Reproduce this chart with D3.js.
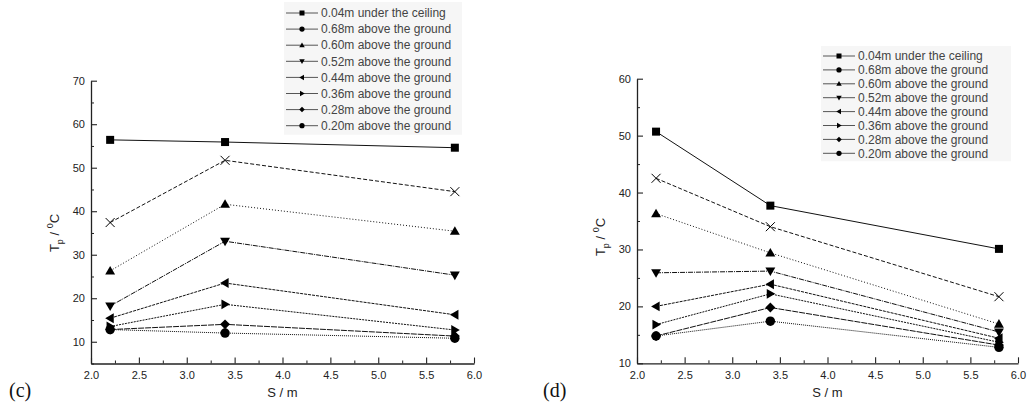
<!DOCTYPE html>
<html>
<head>
<meta charset="utf-8">
<script src="https://cdn.jsdelivr.net/npm/d3@7"></script>
<style>
  body { margin: 0; background: #fff; }
  svg { display: block; font-family: "Liberation Sans", Arial, sans-serif; }
</style>
</head>
<body>
<svg id="chart" width="1027" height="408"></svg>
<script>
// ─── DATA ───
const xValues = [2.2, 3.4, 5.8];
const seriesNames = [
    "0.04m under the ceiling",
    "0.68m above the ground",
    "0.60m above the ground",
    "0.52m above the ground",
    "0.44m above the ground",
    "0.36m above the ground",
    "0.28m above the ground",
    "0.20m above the ground"
];
// panel (c)
const valuesC = [
    [56.4, 55.9, 54.6],
    [37.4, 51.7, 44.5],
    [26.3, 41.6, 35.4],
    [18.2, 33.1, 25.3],
    [15.4, 23.5, 16.2],
    [13.5, 18.6, 12.7],
    [12.8, 14.0, 11.3],
    [12.8, 12.0, 10.8]
];
// panel (d)
const valuesD = [
    [50.7, 37.7, 30.1],
    [42.5, 34.0, 21.7],
    [36.3, 29.4, 16.9],
    [25.9, 26.2, 15.5],
    [20.0, 23.9, 14.4],
    [16.8, 22.2, 13.7],
    [14.8, 19.8, 13.2],
    [14.8, 17.4, 12.8]
];
const xTicks = [2.0, 2.5, 3.0, 3.5, 4.0, 4.5, 5.0, 5.5, 6.0];
const yTicksC = [10, 20, 30, 40, 50, 60, 70];
const yTicksD = [10, 20, 30, 40, 50, 60];

// ─── STYLES ───
const plotSymbols = ["square", "cross", "up", "down", "left", "right", "diamond", "circle"];
const legendSymbols = ["square", "circle", "up", "down", "left", "right", "diamond", "circle"];
const dashes = [null, "4,2", "1,2", "5,1,1,1", "3,1", "2,1", "6,1", "1,1"];

const svg = d3.select("#chart");

const drawMarker = (g, type, cx, cy, s) => {
    const h = s / 2;
    let pts;
    if (type === "square") {
        g.append("rect").attr("x", cx - h).attr("y", cy - h).attr("width", s).attr("height", s).attr("fill", "#000");
        return;
    }
    if (type === "circle") {
        g.append("circle").attr("cx", cx).attr("cy", cy).attr("r", h * 1.05).attr("fill", "#000");
        return;
    }
    if (type === "cross") {
        g.append("path")
            .attr("d", `M${cx - h},${cy - h}L${cx + h},${cy + h}M${cx - h},${cy + h}L${cx + h},${cy - h}`)
            .attr("stroke", "#000").attr("stroke-width", 1).attr("fill", "none");
        return;
    }
    if (type === "up") pts = [[cx, cy - h * 1.1], [cx + h * 1.1, cy + h * 0.8], [cx - h * 1.1, cy + h * 0.8]];
    if (type === "down") pts = [[cx, cy + h * 1.1], [cx + h * 1.1, cy - h * 0.8], [cx - h * 1.1, cy - h * 0.8]];
    if (type === "left") pts = [[cx - h * 1.1, cy], [cx + h * 0.8, cy - h * 1.1], [cx + h * 0.8, cy + h * 1.1]];
    if (type === "right") pts = [[cx + h * 1.1, cy], [cx - h * 0.8, cy - h * 1.1], [cx - h * 0.8, cy + h * 1.1]];
    if (type === "diamond") pts = [[cx, cy - h * 1.1], [cx + h * 1.1, cy], [cx, cy + h * 1.1], [cx - h * 1.1, cy]];
    g.append("polygon").attr("points", pts.map(p => p.join(",")).join(" ")).attr("fill", "#000");
};

const drawPanel = (cfg) => {
    const g = svg.append("g");

    const x = d3.scaleLinear().domain([2, 6]).range([cfg.left, cfg.right]);
    const y = d3.scaleLinear().domain(cfg.yDomain).range([cfg.bottom, cfg.top]);

    // minor ticks
    const yMinor = d3.range(cfg.yDomain[0], cfg.yDomain[1] + 0.01, 5).filter(v => v % 10 !== 0);
    const xMinor = d3.range(2.25, 6, 0.5);

    g.append("g").attr("transform", `translate(0,${cfg.bottom})`)
        .call(d3.axisBottom(x).tickValues(xMinor).tickSize(-3).tickFormat(""))
        .call(a => a.select(".domain").remove());
    g.append("g").attr("transform", `translate(${cfg.left},0)`)
        .call(d3.axisLeft(y).tickValues(yMinor).tickSize(-3).tickFormat(""))
        .call(a => a.select(".domain").remove());

    const xa = g.append("g").attr("transform", `translate(0,${cfg.bottom})`)
        .call(d3.axisBottom(x).tickValues(xTicks).tickSize(-6).tickSizeOuter(0).tickPadding(8).tickFormat(d3.format(".1f")));
    const ya = g.append("g").attr("transform", `translate(${cfg.left},0)`)
        .call(d3.axisLeft(y).tickValues(cfg.yTicks).tickSize(-6).tickSizeOuter(0).tickPadding(6));

    [xa, ya].forEach(a => {
        a.selectAll("text").attr("font-size", 11).attr("fill", "#222")
            .attr("font-family", "'Liberation Sans', Arial, sans-serif");
        a.select(".domain").attr("stroke", "#222").attr("stroke-width", 1.3);
        a.selectAll(".tick line").attr("stroke", "#222").attr("stroke-width", 1.1);
    });
    g.selectAll(".tick line").attr("stroke", "#222");

    // axis titles
    g.append("text")
        .attr("x", (cfg.left + cfg.right) / 2)
        .attr("y", 397)
        .attr("text-anchor", "middle")
        .attr("font-size", 13)
        .attr("fill", "#222")
        .text("S / m");

    const yl = g.append("text")
        .attr("transform", `translate(${cfg.yLabelX},${cfg.yLabelY}) rotate(-90)`)
        .attr("text-anchor", "middle")
        .attr("font-size", 13)
        .attr("fill", "#222");
    yl.append("tspan").text("T");
    yl.append("tspan").attr("font-size", 9).attr("baseline-shift", "-4").text("p");
    yl.append("tspan").text("\u00a0/\u00a0");
    yl.append("tspan").attr("font-size", 9).attr("baseline-shift", "6").text("0");
    yl.append("tspan").text("C");

    g.append("text")
        .attr("x", cfg.tagX).attr("y", 397)
        .attr("font-family", "'Liberation Serif', 'Times New Roman', serif")
        .attr("font-size", 20)
        .attr("fill", "#111")
        .text(cfg.tag);

    // lines
    const line = d3.line().x((d, i) => x(xValues[i])).y(d => y(d));
    cfg.values.forEach((vals, si) => {
        g.append("path")
            .datum(vals)
            .attr("d", line)
            .attr("fill", "none")
            .attr("stroke", "#111")
            .attr("stroke-width", 1)
            .attr("stroke-dasharray", dashes[si]);
    });
    cfg.values.forEach((vals, si) => {
        vals.forEach((v, i) => drawMarker(g, plotSymbols[si], x(xValues[i]), y(v), si === 0 ? 8 : 9));
    });

    // legend
    const lg = g.append("g");
    lg.append("rect")
        .attr("x", cfg.legX - 2).attr("y", cfg.legY - cfg.legStep / 2 - 3)
        .attr("width", cfg.legW).attr("height", cfg.legStep * 8 + 4)
        .attr("fill", "#f6f6f6");
    seriesNames.forEach((name, i) => {
        const cy = cfg.legY + i * cfg.legStep;
        lg.append("line")
            .attr("x1", cfg.legX).attr("x2", cfg.legX + 32)
            .attr("y1", cy).attr("y2", cy)
            .attr("stroke", "#555").attr("stroke-width", 1);
        drawMarker(lg, legendSymbols[i], cfg.legX + 16, cy, 5);
        lg.append("text")
            .attr("x", cfg.legX + 35).attr("y", cy)
            .attr("dy", "0.35em")
            .attr("font-size", 12)
            .attr("fill", "#444")
            .text(name);
    });
};

drawPanel({
    left: 91, right: 474, top: 80.7, bottom: 363.5,
    yDomain: [5, 70], yTicks: yTicksC, values: valuesC,
    yLabelX: 59, yLabelY: 233,
    tag: "(c)", tagX: 9,
    legX: 286, legY: 13, legStep: 16.1, legW: 178
});

drawPanel({
    left: 637, right: 1018, top: 78.7, bottom: 363.3,
    yDomain: [10, 60], yTicks: yTicksD, values: valuesD,
    yLabelX: 605, yLabelY: 237,
    tag: "(d)", tagX: 543,
    legX: 823, legY: 56, legStep: 13.9, legW: 190
});
</script>
</body>
</html>
